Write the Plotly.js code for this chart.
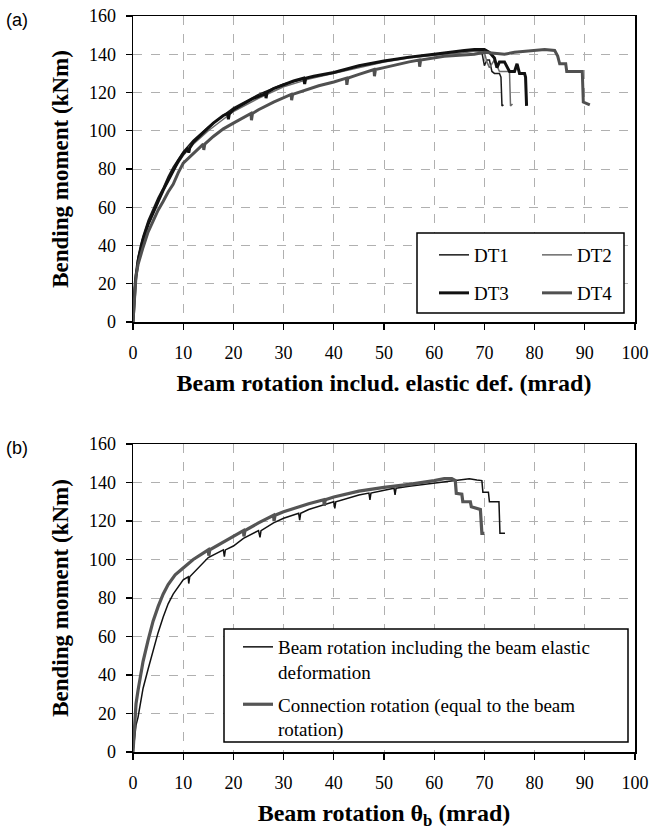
<!DOCTYPE html>
<html>
<head>
<meta charset="utf-8">
<script src="https://cdn.plot.ly/plotly-3.0.1.min.js"></script>
<style>html,body{margin:0;padding:0;background:#fff;}</style>
</head>
<body>
<div id="chart" style="width:653px;height:835px;"></div>
<script>
// ---- Panel (a) data ----
const dt1X = [0,0.3,0.7,1,1.5,2,3,4,5,6,7,8,10,12,15,18,20,25,30,35,40,45,50,55,60,65,68,69.5,70,70.5,71,71.5,72,73,73.3,73.5,73.8];
const dt1Y = [0,18,27,34,40,45,53,59,65,70,76,81,89,95,102,108,112,119,124.5,127.5,130.5,134,136.5,138.5,140,141.5,142,141,134,137,137,131,130,130,128,113,113.5];

const dt2X = [0,0.3,0.7,1,1.5,2,3,4,5,6,7,8,10,12,15,18,20,25,30,35,40,45,50,55,60,65,68,70,70.5,71,72,73,74,75,75.2,75.6];
const dt2Y = [0,16,25,32,38,43,51,57,63,68,74,79,87,93,100,106,110,117,123,127,130,133,136,138,139.5,140.5,141.5,141,136,133,137,131,131,131,113,114];

const dt3X = [0,0.2,0.5,1,1.5,2,3,4,5,6,7,8,9,10,11,11.1,11.3,12,14,16,18,18.9,19,19.2,20,22,24,26,26.4,26.5,26.7,28,30,32,34,34.2,34.4,36,40,45,50,55,60,64,66,68,70,71,72,72.5,73,74,75,76,76.5,77,78,78.2,78.4];
const dt3Y = [0,12,22,32,38,43,51,57,63,69,74,79,84,88,91,88.5,91,94,99,104,108,109,106,109,111,114,117,119,120,117,120,122,124,126,127.5,124.5,127.5,128.5,130.5,134,136.5,138.5,140,141.5,142,142.5,142.5,141,138,133,136,136,131,131,135,130,130,128,113];

const dt4X = [0,0.3,0.6,1,1.5,2,3,4,5,6,7,8,9,10,12,14,14.1,14.3,16,18,20,22,23.5,23.6,23.8,25,28,31.5,31.6,31.8,34,37,40,42.5,42.6,42.8,45,48,48.1,48.3,50,53,55,57,57.1,57.3,60,62,65,68,70,72,74,76,78,80,82,84,84.6,85,86.2,86.4,89.5,89.7,90.5,91];
const dt4Y = [0,14,24,30,35,39,47,53,58.5,63,68,72,78,83,88,93,90,93,97,101,104,107,109,105.5,109,111,115,119,116,119,121,123.5,125.5,127.5,124,127.5,129.5,132,128.5,132,133,135,136,137,133.5,137,138,139,139.5,140,141,140.5,140,141,141.5,142,142.5,142,139,135,135,131,131,115,114,113.5];

// ---- Panel (b) data ----
const beamX = [0,0.3,0.6,1,1.5,2,3,4,5,6,7,8,10,11,11.1,11.3,12,15,18,18.2,18.4,20,22,25,25.3,25.5,28,30,33,33.2,33.4,35,40,40.2,40.4,45,47,47.2,47.4,50,52,52.2,52.4,55,58,60,62,65,67,68.5,69.5,69.7,70.8,71,72.9,73.1,74.1];
const beamY = [0,8,14,18,26,33,43,53,62,70,77,82,89.4,91,87.5,91,93,101,105,101.5,105,107,111,115,111.5,115,119,121.4,124,120.5,124,126,130,126.5,130,133.5,134.5,131,134.5,136,137,133.5,137,138,139,139.5,140.5,141.5,142,141.3,141,135,135,130,130,113.6,113.6];

const connX = [0,0.3,0.6,1,1.5,2,3,4,5,6,7,8.4,10,12,15,15.1,15.3,18,20,22,22.1,22.3,25,28,28.1,28.3,30,35,38,38.1,38.3,40,45,50,55,58,60,62,63.5,64.2,64.4,65.5,65.7,67.2,67.4,69.2,69.5,70];
const connY = [0,15,25,32,40,47,58,68,75.5,82,87,92,95.6,100,105,102,105,109,112,115,112,115,119,123,120,123,124.8,129,131,128,131,132.5,135.5,137.5,139,140,141,142,142,141,134.4,134,130,130,127.4,126,113.6,113.6];

const xTicks = [0,10,20,30,40,50,60,70,80,90,100];
const yTicks = [0,20,40,60,80,100,120,140,160];

const serif = "Liberation Serif";

const traces = [
  {x: dt1X, y: dt1Y, name: "DT1", mode: "lines", line: {color: "#1a1a1a", width: 1.5}, xaxis: "x", yaxis: "y", legend: "legend"},
  {x: dt2X, y: dt2Y, name: "DT2", mode: "lines", line: {color: "#6a6a6a", width: 1.5}, xaxis: "x", yaxis: "y", legend: "legend"},
  {x: dt3X, y: dt3Y, name: "DT3", mode: "lines", line: {color: "#111111", width: 3}, xaxis: "x", yaxis: "y", legend: "legend2"},
  {x: dt4X, y: dt4Y, name: "DT4", mode: "lines", line: {color: "#505050", width: 3}, xaxis: "x", yaxis: "y", legend: "legend2"},
  {x: beamX, y: beamY, name: "Beam rotation including the beam elastic<br>deformation", mode: "lines", legendgroup: "g1", line: {color: "#111111", width: 1.5}, xaxis: "x2", yaxis: "y2", legend: "legend3"},
  {x: connX, y: connY, name: "Connection rotation (equal to the beam<br>rotation)", mode: "lines", legendgroup: "g2", line: {color: "#555555", width: 3.2}, xaxis: "x2", yaxis: "y2", legend: "legend3"}
];

function xa(title, anchor) {
  return {
    range: [0, 100], tickvals: xTicks, ticktext: xTicks.map(String),
    showline: true, linecolor: "#000", linewidth: 1.5, mirror: true,
    ticks: "outside", ticklen: 6, tickcolor: "#000", tickwidth: 1.2,
    ticklabelstandoff: 8,
    showgrid: true, gridcolor: "#b0b0b0", griddash: "dash", gridwidth: 1,
    zeroline: false, anchor: anchor,
    tickfont: {family: serif, size: 18, color: "#000"},
    title: {text: title, font: {family: serif, size: 24, color: "#000", weight: "bold"}, standoff: 12}
  };
}
function ya(domain, anchor) {
  return {
    range: [0, 160], tickvals: yTicks, ticktext: yTicks.map(String), domain: domain,
    showline: true, linecolor: "#000", linewidth: 1.5, mirror: true,
    ticks: "outside", ticklen: 6, tickcolor: "#000", tickwidth: 1.2,
    ticklabelstandoff: 6,
    showgrid: true, gridcolor: "#b0b0b0", griddash: "dash", gridwidth: 1,
    zeroline: false, anchor: anchor,
    tickfont: {family: serif, size: 18, color: "#000"},
    title: {text: "Bending moment (kNm)", font: {family: serif, size: 23, color: "#000", weight: "bold"}, standoff: 14}
  };
}

const L = 133, R = 18, T = 16, B = 83, W = 653, H = 835;
const pw = W - L - R, ph = H - T - B;
const px = v => (v - L) / pw;
const py = v => (H - B - v) / ph;

const legFont = {family: serif, size: 19, color: "#000"};

const layout = {
  width: W, height: H,
  margin: {l: L, r: R, t: T, b: B},
  paper_bgcolor: "#fff", plot_bgcolor: "#fff",
  font: {family: serif, color: "#000"},
  showlegend: true,
  xaxis: xa("Beam rotation includ. elastic def. (mrad)", "y"),
  yaxis: ya([py(322), 1], "x"),
  xaxis2: xa("Beam rotation θ<sub>b</sub> (mrad)", "y2"),
  yaxis2: ya([0, py(444)], "x2"),
  legend: {orientation: "h", x: px(434), y: py(255), xanchor: "left", yanchor: "middle",
           bgcolor: "rgba(0,0,0,0)", font: legFont, entrywidth: 58, entrywidthmode: "pixels", tracegroupgap: 0},
  legend2: {orientation: "h", x: px(434), y: py(293), xanchor: "left", yanchor: "middle",
           bgcolor: "rgba(0,0,0,0)", font: legFont, entrywidth: 58, entrywidthmode: "pixels", tracegroupgap: 0},
  legend3: {x: px(238), y: py(628), xanchor: "left", yanchor: "top", valign: "top",
           bgcolor: "rgba(0,0,0,0)", font: legFont, tracegroupgap: 5},
  shapes: [
    {type: "rect", xref: "paper", yref: "paper", x0: px(417), x1: px(624), y0: py(313), y1: py(233),
     line: {color: "#000", width: 1.5}, fillcolor: "#fff", layer: "above"},
    {type: "rect", xref: "paper", yref: "paper", x0: px(224), x1: px(628), y0: py(742), y1: py(629),
     line: {color: "#000", width: 1.5}, fillcolor: "#fff", layer: "above"}
  ],
  annotations: [
    {text: "(a)", xref: "paper", yref: "paper", x: px(4), y: py(8), xanchor: "left", yanchor: "top",
     showarrow: false, font: {family: "Liberation Sans", size: 18, color: "#000"}},
    {text: "(b)", xref: "paper", yref: "paper", x: px(4), y: py(436), xanchor: "left", yanchor: "top",
     showarrow: false, font: {family: "Liberation Sans", size: 18, color: "#000"}}
  ]
};

Plotly.newPlot("chart", traces, layout, {displayModeBar: false, staticPlot: true});
</script>
</body>
</html>
